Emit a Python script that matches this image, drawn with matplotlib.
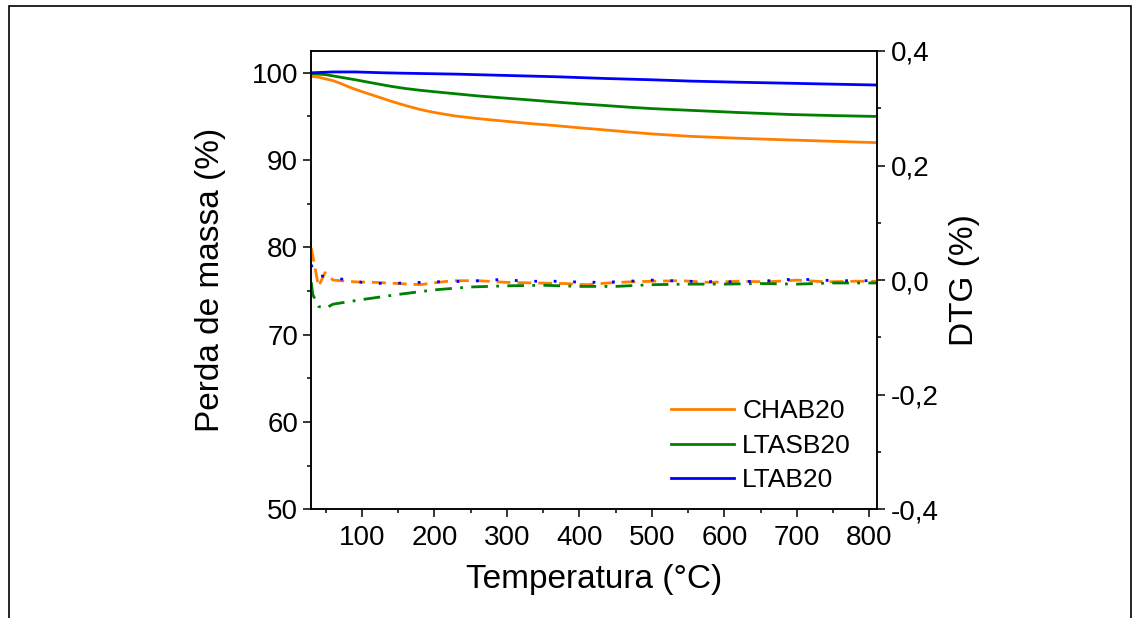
import matplotlib
matplotlib.use("Agg")
import matplotlib.pyplot as plt
from matplotlib.patches import Rectangle
from matplotlib.ticker import MultipleLocator, FuncFormatter

plt.rcParams["font.family"] = ["Liberation Sans", "DejaVu Sans"]

# mass loss curves (TG)
temp_chab = [30, 40, 50, 60, 70, 80, 91, 105, 120, 140, 160, 180, 200, 229, 260, 298, 330,
             367, 400, 436, 470, 500, 553, 620, 692, 750, 810]
mass_chab = [99.6, 99.5, 99.3, 99.1, 98.8, 98.45, 98.1, 97.7, 97.3, 96.75, 96.25, 95.8,
             95.45, 95.05, 94.75, 94.45, 94.2, 93.95, 93.7, 93.45, 93.2, 93.0, 92.72, 92.5,
             92.3, 92.15, 92.0]

temp_ltasb = [30, 49, 70, 91, 120, 140, 160, 180, 200, 229, 260, 298, 330, 367, 400, 436,
              470, 500, 553, 620, 692, 750, 810]
mass_ltasb = [99.9, 99.8, 99.5, 99.2, 98.75, 98.45, 98.2, 98.0, 97.83, 97.6, 97.35, 97.1,
              96.9, 96.65, 96.45, 96.25, 96.05, 95.9, 95.7, 95.45, 95.22, 95.1, 95.0]

temp_ltab = [30, 60, 91, 130, 160, 229, 298, 367, 436, 500, 553, 620, 692, 750, 810]
mass_ltab = [100.0, 100.1, 100.1, 100.0, 99.95, 99.85, 99.7, 99.55, 99.35, 99.2, 99.05,
             98.92, 98.8, 98.7, 98.6]

# derivative curves (DTG)
dtg_temp_chab = [30, 40, 49, 60, 90, 120, 150, 180, 205, 225, 260, 300, 340, 380, 410,
                 440, 470, 500, 540, 580, 620, 660, 700, 740, 780, 810]
dtg_chab = [0.056, -0.011, 0.013, 0.000, -0.003, -0.004, -0.006, -0.008, -0.004, -0.001,
            -0.001, -0.004, -0.005, -0.006, -0.008, -0.005, -0.003, -0.002, -0.001, -0.004,
            -0.002, -0.003, 0.000, -0.003, -0.002, -0.002]

dtg_temp_ltasb = [30, 32, 40, 50, 60, 100, 150, 200, 250, 300, 350, 400, 450, 500, 550,
                  600, 650, 700, 750, 810]
dtg_ltasb = [-0.004, -0.025, -0.046, -0.049, -0.042, -0.034, -0.025, -0.017, -0.012, -0.010,
             -0.009, -0.011, -0.011, -0.008, -0.007, -0.007, -0.006, -0.007, -0.005, -0.005]

dtg_temp_ltab = [30, 35, 45, 60, 80, 100, 130, 160, 200, 250, 290, 330, 370, 410, 450,
                 500, 550, 600, 650, 700, 750, 810]
dtg_ltab = [0.027, 0.005, 0.007, 0.003, 0.001, -0.004, -0.006, -0.005, -0.003, -0.002,
            0.001, -0.002, -0.002, -0.004, -0.003, 0.000, -0.002, -0.003, -0.002, 0.002,
            -0.001, -0.001]

c_orange = "#FF8000"
c_green = "#008000"
c_blue = "#0000FF"

fig = plt.figure(figsize=(11.36, 6.18), dpi=100)
ax = fig.add_axes([0.274, 0.176, 0.4983, 0.7415])
ax2 = ax.twinx()

ax.plot(temp_chab, mass_chab, color=c_orange, lw=2, label="CHAB20")
ax.plot(temp_ltasb, mass_ltasb, color=c_green, lw=2, label="LTASB20")
ax.plot(temp_ltab, mass_ltab, color=c_blue, lw=2, label="LTAB20")

ax2.plot(dtg_temp_chab, dtg_chab, color=c_orange, lw=2, linestyle=(0, (5, 2.5)))
ax2.plot(dtg_temp_ltasb, dtg_ltasb, color=c_green, lw=2, linestyle=(0, (6, 3, 1, 3)))
ax2.plot(dtg_temp_ltab, dtg_ltab, color=c_blue, lw=2, linestyle=(0, (1, 6)))

ax.set_xlim(30, 811)
ax.set_ylim(50, 102.5)
ax2.set_ylim(-0.4, 0.4)

ax.xaxis.set_major_locator(MultipleLocator(100))
ax.xaxis.set_minor_locator(MultipleLocator(50))
ax.yaxis.set_major_locator(MultipleLocator(10))
ax.yaxis.set_minor_locator(MultipleLocator(5))
ax2.yaxis.set_major_locator(MultipleLocator(0.2))
ax2.yaxis.set_minor_locator(MultipleLocator(0.1))
ax2.yaxis.set_major_formatter(FuncFormatter(lambda v, p: f"{v:.1f}".replace(".", ",").replace("-0,0", "0,0")))

for a in (ax, ax2):
    a.tick_params(which="major", direction="out", length=6, width=1.1, labelsize=20)
    a.tick_params(which="minor", direction="out", length=3, width=1.1)
    for s in a.spines.values():
        s.set_linewidth(1.1)
ax.tick_params(axis="x", pad=5)
ax2.tick_params(axis="y", pad=4)

ax.set_xlabel("Temperatura (°C)", fontsize=24)
ax.set_ylabel("Perda de massa (%)", fontsize=24)
ax2.set_ylabel("DTG (%)", fontsize=24)
ax.xaxis.set_label_coords(0.5, -0.12)
ax.yaxis.set_label_coords(-0.15, 0.5)
ax2.yaxis.set_label_coords(1.127, 0.5)

ax.legend(loc="upper left", bbox_to_anchor=(0.5907, 0.354), bbox_transform=fig.transFigure,
          frameon=False, fontsize=19, handlelength=2.4, handletextpad=0.3,
          labelspacing=0.4, borderpad=0, borderaxespad=0)

# outer frame around the figure
fig.add_artist(Rectangle((0.0075, -0.05), 0.988, 1.0395, transform=fig.transFigure,
                         fill=False, edgecolor="black", lw=1.2))

fig.savefig("out.png", dpi=100)
